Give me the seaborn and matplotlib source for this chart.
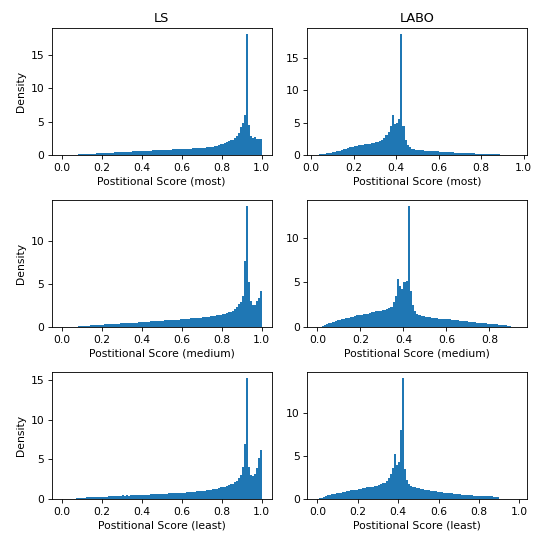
import numpy as np
import pandas as pd
import seaborn as sns
import matplotlib
matplotlib.use("Agg")
import matplotlib.pyplot as plt

# density per bin (bin width 0.01)
bin_width = 0.01

ls_most = [0.02, 0.03, 0.05, 0.05, 0.06, 0.08, 0.1, 0.1, 0.12, 0.13,
           0.15, 0.16, 0.18, 0.2, 0.22, 0.25, 0.24, 0.27, 0.28, 0.3,
           0.32, 0.34, 0.33, 0.36, 0.38, 0.4, 0.42, 0.41, 0.44, 0.46,
           0.48, 0.5, 0.52, 0.5, 0.55, 0.56, 0.58, 0.6, 0.62, 0.6,
           0.65, 0.64, 0.68, 0.7, 0.68, 0.72, 0.74, 0.72, 0.76, 0.78,
           0.8, 0.78, 0.82, 0.84, 0.82, 0.86, 0.88, 0.9, 0.88, 0.92,
           0.95, 0.96, 0.98, 1.0, 0.98, 1.02, 1.05, 1.04, 1.08, 1.1,
           1.12, 1.15, 1.2, 1.22, 1.28, 1.3, 1.35, 1.45, 1.55, 1.6,
           1.7, 1.85, 2.0, 2.1, 2.2, 2.3, 2.5, 2.8, 3.3, 4.2,
           4.8, 6.0, 18.1, 4.5, 2.9, 2.5, 2.7, 2.4, 2.4, 2.4]
ls_medium = [0.02, 0.02, 0.02, 0.03, 0.03, 0.04, 0.05, 0.06, 0.1, 0.12,
             0.14, 0.15, 0.17, 0.18, 0.2, 0.22, 0.23, 0.25, 0.26, 0.28,
             0.3, 0.31, 0.32, 0.34, 0.35, 0.36, 0.38, 0.39, 0.4, 0.42,
             0.43, 0.45, 0.46, 0.48, 0.49, 0.5, 0.52, 0.53, 0.55, 0.56,
             0.58, 0.6, 0.62, 0.63, 0.65, 0.66, 0.68, 0.7, 0.72, 0.74,
             0.75, 0.77, 0.78, 0.8, 0.82, 0.84, 0.85, 0.87, 0.88, 0.9,
             0.92, 0.94, 0.95, 0.97, 1.0, 1.02, 1.04, 1.06, 1.08, 1.1,
             1.12, 1.15, 1.18, 1.2, 1.24, 1.28, 1.32, 1.36, 1.4, 1.45,
             1.5, 1.55, 1.62, 1.7, 1.8, 1.9, 2.05, 2.3, 2.7, 2.9,
             3.6, 7.7, 14.0, 5.2, 3.0, 2.6, 2.6, 3.0, 3.4, 4.2]
ls_least = [0.03, 0.03, 0.03, 0.03, 0.03, 0.03, 0.03, 0.15, 0.15, 0.16,
            0.17, 0.18, 0.2, 0.22, 0.2, 0.24, 0.25, 0.22, 0.26, 0.27,
            0.28, 0.3, 0.3, 0.32, 0.33, 0.35, 0.36, 0.38, 0.38, 0.4,
            0.55, 0.42, 0.5, 0.44, 0.45, 0.46, 0.48, 0.48, 0.5, 0.5,
            0.52, 0.54, 0.55, 0.56, 0.58, 0.58, 0.6, 0.62, 0.62, 0.64,
            0.66, 0.68, 0.68, 0.7, 0.72, 0.72, 0.74, 0.75, 0.76, 0.78,
            0.8, 0.82, 0.84, 0.85, 0.88, 0.9, 0.92, 0.95, 0.98, 1.0,
            1.02, 1.05, 1.08, 1.1, 1.15, 1.2, 1.25, 1.3, 1.35, 1.45,
            1.5, 1.55, 1.65, 1.75, 1.85, 1.95, 2.1, 2.3, 2.6, 3.0,
            4.0, 6.9, 15.2, 4.0, 3.0, 2.9, 3.2, 3.9, 5.2, 6.2]

labo_most_start = 0.03
labo_most = [0.1, 0.15, 0.2, 0.25, 0.3, 0.35, 0.4, 0.5,
             0.55, 0.6, 0.7, 0.8, 0.9, 1.0, 1.1, 1.2, 1.3, 1.4,
             1.45, 1.5, 1.55, 1.6, 1.65, 1.7, 1.75, 1.8, 1.9, 2.0,
             2.1, 2.2, 2.4, 2.7, 3.1, 3.6, 4.5, 6.2, 4.8, 5.0,
             5.6, 18.6, 4.5, 2.4, 1.5, 1.2, 1.0, 0.9, 0.85, 0.8,
             0.78, 0.75, 0.72, 0.7, 0.68, 0.65, 0.62, 0.6, 0.58, 0.55,
             0.52, 0.5, 0.48, 0.45, 0.43, 0.42, 0.4, 0.38, 0.36, 0.35,
             0.33, 0.32, 0.3, 0.28, 0.27, 0.26, 0.25, 0.24, 0.23, 0.22,
             0.2, 0.19, 0.18, 0.17, 0.16, 0.15, 0.13, 0.12, 0.1, 0.09,
             0.08, 0.07, 0.06, 0.05, 0.04, 0.03]
labo_medium = [0.05, 0.05, 0.15, 0.25, 0.35, 0.45, 0.5, 0.6, 0.7, 0.75,
               0.8, 0.85, 0.9, 1.0, 1.05, 1.1, 1.15, 1.2, 1.3, 1.35,
               1.4, 1.45, 1.5, 1.5, 1.6, 1.65, 1.7, 1.75, 1.8, 1.85,
               1.9, 1.95, 2.0, 2.1, 2.3, 2.8, 3.5, 5.4, 4.6, 4.3,
               5.0, 5.2, 13.5, 4.0, 2.5, 1.8, 1.5, 1.3, 1.25, 1.2,
               1.15, 1.1, 1.1, 1.05, 1.0, 1.0, 0.95, 0.95, 0.9, 0.9,
               0.85, 0.85, 0.8, 0.8, 0.75, 0.75, 0.7, 0.7, 0.65, 0.65,
               0.6, 0.6, 0.55, 0.55, 0.5, 0.5, 0.45, 0.45, 0.42, 0.4,
               0.38, 0.35, 0.32, 0.3, 0.28, 0.25, 0.22, 0.2, 0.12, 0.08,
               0.06, 0.05, 0.04]
labo_least = [0.05, 0.12, 0.15, 0.25, 0.35, 0.45, 0.5, 0.55, 0.6, 0.65,
              0.7, 0.75, 0.8, 0.85, 0.9, 0.95, 1.0, 1.0, 1.05, 1.1,
              1.15, 1.2, 1.25, 1.3, 1.35, 1.4, 1.4, 1.45, 1.5, 1.55,
              1.6, 1.7, 1.8, 1.9, 2.1, 2.4, 2.9, 3.6, 5.2, 3.9,
              4.3, 8.0, 14.0, 3.5, 2.2, 1.7, 1.5, 1.4, 1.35, 1.3,
              1.25, 1.2, 1.15, 1.1, 1.05, 1.0, 0.95, 0.9, 0.88, 0.85,
              0.8, 0.78, 0.75, 0.72, 0.7, 0.68, 0.65, 0.62, 0.6, 0.58,
              0.55, 0.52, 0.5, 0.48, 0.46, 0.44, 0.42, 0.4, 0.38, 0.36,
              0.35, 0.35, 0.34, 0.34, 0.33, 0.32, 0.3, 0.28, 0.25, 0.2,
              0.04, 0.03, 0.03, 0.03, 0.02, 0.02, 0.02, 0.02, 0.02]

levels = ["most", "medium", "least"]
columns = ["LS", "LABO"]
panels = {
    ("LS", "most"): (0.0, ls_most),
    ("LS", "medium"): (0.0, ls_medium),
    ("LS", "least"): (0.0, ls_least),
    ("LABO", "most"): (labo_most_start, labo_most),
    ("LABO", "medium"): (0.0, labo_medium),
    ("LABO", "least"): (0.0, labo_least),
}

dpi = 77
fig, axes = plt.subplots(3, 2, figsize=(537 / dpi, 534 / dpi), dpi=dpi)

for j, col in enumerate(columns):
    for i, lev in enumerate(levels):
        ax = axes[i, j]
        start, vals = panels[(col, lev)]
        edges = start + bin_width * np.arange(len(vals) + 1)
        df = pd.DataFrame({"score": edges[:-1] + bin_width / 2, "density": vals})
        sns.histplot(data=df, x="score", weights="density", bins=edges.tolist(),
                     stat="count", color="#1f77b4", alpha=1, linewidth=0, ax=ax)
        ax.set_xlabel(f"Postitional Score ({lev})")
        ax.set_ylabel("Density" if j == 0 else "")
        if i == 0:
            ax.set_title(col)

fig.subplots_adjust(left=0.0963, right=0.982, top=0.947, bottom=0.0655,
                    wspace=0.162, hspace=0.355)
fig.savefig("out.png", dpi=dpi)
